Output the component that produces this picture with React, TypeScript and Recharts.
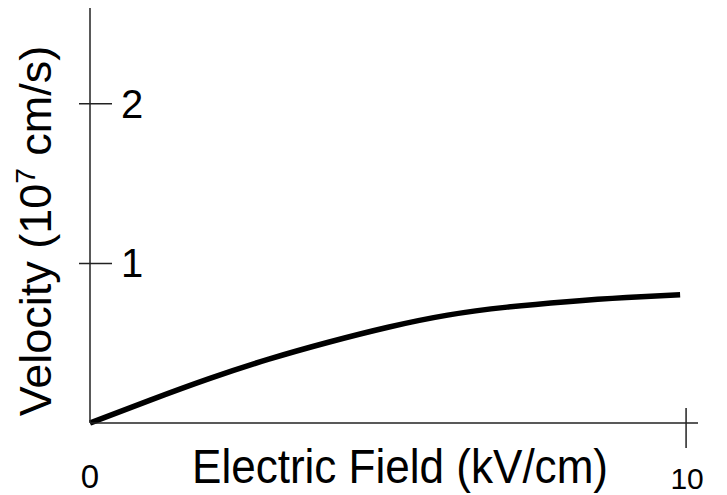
import { LineChart, Line, XAxis, YAxis } from 'recharts';

const fieldKV = [0, 1, 2, 3, 4, 5, 6, 7, 8, 9, 9.9];
const velocity = [0, 0.142, 0.278, 0.4, 0.506, 0.6, 0.676, 0.726, 0.76, 0.786, 0.803];
const xTicks = [0, 10];
const yTicks = [1, 2];

const data = fieldKV.map((e, i) => ({ e, v: velocity[i] }));

const FONT = "'Liberation Sans', Arimo, Arial, Helvetica, sans-serif";
const AXIS = '#222';

function YTick(props: any) {
  const { x, y, payload } = props;
  return (
    <g>
      <line x1={x - 11} x2={x + 22} y1={y} y2={y} stroke={AXIS} strokeWidth={1.5} />
      <text x={x + 31} y={y + 14} fontSize={40} style={{ fontFamily: FONT }} fill="#000">
        {payload.value}
      </text>
    </g>
  );
}

function XTick(props: any) {
  const { x, y, payload } = props;
  if (payload.value === 0) {
    return (
      <text x={x} y={y + 65} fontSize={33} style={{ fontFamily: FONT }} fill="#000" textAnchor="middle">
        0
      </text>
    );
  }
  return (
    <g>
      <line x1={x} x2={x} y1={y - 15} y2={y + 25} stroke={AXIS} strokeWidth={1.5} />
      <text x={x + 1} y={y + 66} fontSize={30} style={{ fontFamily: FONT }} fill="#000" textAnchor="middle">
        {payload.value}
      </text>
    </g>
  );
}

export default function App() {
  return (
    <div style={{ position: 'absolute', left: 0, top: 0, background: '#fff' }}>
      <LineChart width={727} height={495} data={data} margin={{ top: 8, right: 29, bottom: 0, left: 0 }}>
        <XAxis
          dataKey="e"
          type="number"
          domain={[0, 10.2]}
          ticks={xTicks}
          height={72}
          tickSize={0}
          tickMargin={0}
          tickLine={false}
          axisLine={{ stroke: AXIS, strokeWidth: 1.5 }}
          tick={<XTick />}
          label={{
            content: ({ viewBox }: any) => (
              <text
                x={viewBox.x + 102}
                y={viewBox.y + 60}
                fontSize={48}
                style={{ fontFamily: FONT }}
                fill="#000"
                textLength={416}
                lengthAdjust="spacingAndGlyphs"
              >
                Electric Field (kV/cm)
              </text>
            ),
          }}
        />
        <YAxis
          type="number"
          domain={[0, 2.6]}
          ticks={yTicks}
          width={90}
          tickSize={0}
          tickMargin={0}
          tickLine={false}
          axisLine={{ stroke: AXIS, strokeWidth: 1.5 }}
          tick={<YTick />}
          label={{
            content: () => (
              <text
                transform="translate(51,231) rotate(-90)"
                fontSize={45}
                style={{ fontFamily: FONT }}
                fill="#000"
                textAnchor="middle"
              >
                Velocity (10<tspan fontSize={28} dy={-16}>7</tspan>
                <tspan dy={16}> cm/s)</tspan>
              </text>
            ),
          }}
        />
        <Line
          type="natural"
          dataKey="v"
          stroke="#000"
          strokeWidth={5.5}
          dot={false}
          isAnimationActive={false}
        />
      </LineChart>
    </div>
  );
}
